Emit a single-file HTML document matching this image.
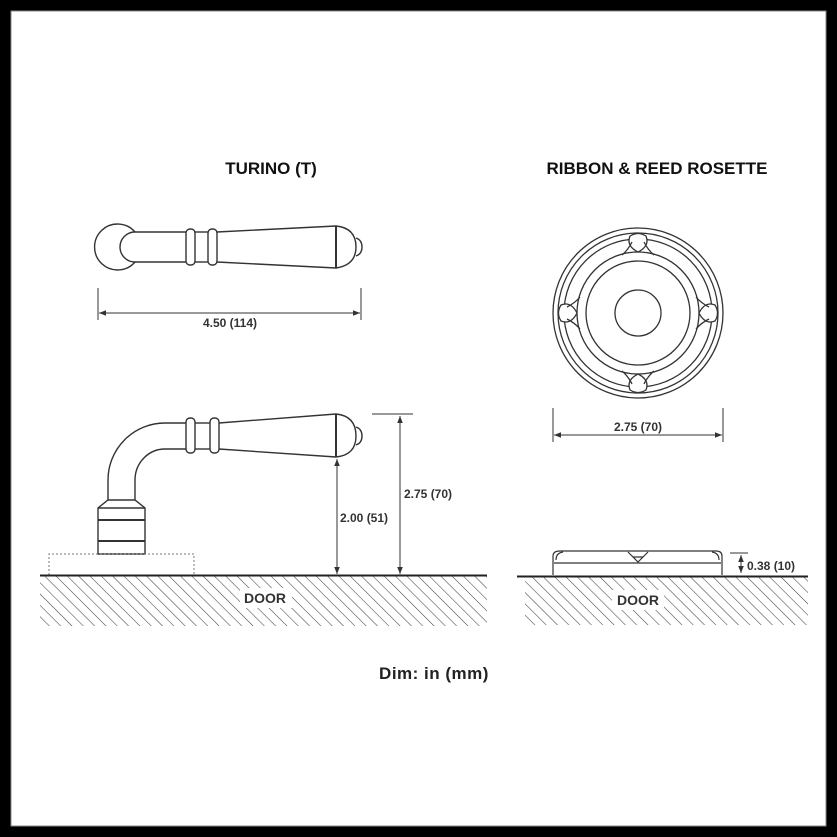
<!DOCTYPE html>
<html><head><meta charset="utf-8"><style>
html,body{margin:0;padding:0;background:#fff}
svg{display:block}
text{font-family:"Liberation Sans",Arial,sans-serif;fill:#333;font-weight:bold}
</style></head><body>
<svg width="837" height="837" viewBox="0 0 837 837" xmlns="http://www.w3.org/2000/svg">
<defs>
<pattern id="h" width="8" height="8" patternUnits="userSpaceOnUse" patternTransform="rotate(-45)">
<line x1="0" y1="0" x2="0" y2="8" stroke="#444" stroke-width="1.1"/>
</pattern>
<marker id="a" viewBox="0 0 10 10" refX="10" refY="5" markerWidth="7" markerHeight="7" orient="auto-start-reverse"><path d="M0,1 L10,5 L0,9 z" fill="#333"/></marker>
</defs>
<rect x="0" y="0" width="837" height="837" fill="#000"/>
<rect x="11" y="11" width="815" height="815" fill="#fff" stroke="#888" stroke-width="1"/>

<text x="271" y="174" font-size="17" text-anchor="middle" style="fill:#111">TURINO (T)</text>
<text x="657" y="174" font-size="17" text-anchor="middle" style="fill:#111">RIBBON &amp; REED ROSETTE</text>

<g fill="none" stroke="#333" stroke-width="1.4">
<path d="M135,232 A23,23 0 1 0 135,262"/>
<path d="M186,232 L135,232 A15,15 0 0 0 135,262 L186,262"/>
<rect x="186" y="229" width="9" height="36" rx="4"/>
<rect x="208" y="229" width="9" height="36" rx="4"/>
<line x1="195" y1="232" x2="208" y2="232"/><line x1="195" y1="262" x2="208" y2="262"/>
<path d="M217,232 L336,226 Q356,228 356,247 Q356,265 336,268 L217,262"/>
<line x1="336" y1="226" x2="336" y2="268" stroke-width="2"/>
<path d="M356,238 Q362,240 362,247 Q362,254 356,256"/>
<line x1="98" y1="288" x2="98" y2="320" stroke-width="1"/>
<line x1="361" y1="288" x2="361" y2="320" stroke-width="1"/>
<line x1="99" y1="313" x2="360" y2="313" stroke-width="1" marker-start="url(#a)" marker-end="url(#a)"/>

<path d="M108,500 L108,480 A57,57 0 0 1 165,423 L186,423"/>
<path d="M135,500 L135,480 A30,31 0 0 1 165,449 L186,449"/>
<rect x="186" y="418" width="9" height="35" rx="4"/>
<rect x="210" y="418" width="9" height="35" rx="4"/>
<line x1="195" y1="423" x2="210" y2="423"/><line x1="195" y1="449" x2="210" y2="449"/>
<path d="M219,423 L336,414 Q356,416 356,436 Q356,455 336,457 L219,449"/>
<line x1="336" y1="414" x2="336" y2="457" stroke-width="2"/>
<path d="M356,427 Q362,429 362,436 Q362,443 356,445"/>
<path d="M108,500 L135,500 L145,508 L145,554 L98,554 L98,508 Z"/>
<line x1="98" y1="508" x2="145" y2="508"/>
<line x1="98" y1="520" x2="145" y2="520" stroke-width="2"/>
<line x1="98" y1="541" x2="145" y2="541" stroke-width="2"/>
<path d="M49,575 L49,554 L194,554 L194,575" stroke-dasharray="2,2" stroke-width="1" stroke="#777"/>
<line x1="337" y1="459" x2="337" y2="574" stroke-width="1" marker-start="url(#a)" marker-end="url(#a)"/>
<line x1="372" y1="414" x2="413" y2="414" stroke-width="1"/>
<line x1="400" y1="416" x2="400" y2="574" stroke-width="1" marker-start="url(#a)" marker-end="url(#a)"/>
</g>
<rect x="40" y="576" width="447" height="50" fill="url(#h)"/>
<line x1="40" y1="575.5" x2="487" y2="575.5" stroke="#222" stroke-width="2"/>
<rect x="240" y="588" width="52" height="20" fill="#fff"/>
<text x="265" y="603" font-size="14" text-anchor="middle">DOOR</text>
<text x="230" y="327" font-size="12" text-anchor="middle">4.50 (114)</text>
<text x="340" y="522" font-size="12">2.00 (51)</text>
<text x="404" y="498" font-size="12">2.75 (70)</text>

<g fill="none" stroke="#333" stroke-width="1.3">
<circle cx="638" cy="313" r="85"/>
<circle cx="638" cy="313" r="80"/>
<circle cx="638" cy="313" r="74"/>
<circle cx="638" cy="313" r="61"/>
<circle cx="638" cy="313" r="52"/>
<circle cx="638" cy="313" r="23"/>
<g id="p">
<path d="M630,236 Q638,231 646,236 Q650,246 638,252 Q626,246 630,236 Z" fill="#fff"/>
<path d="M622,255 Q628,250 632,242 M654,255 Q648,250 644,242"/>
</g>
<use href="#p" transform="rotate(90 638 313)"/>
<use href="#p" transform="rotate(180 638 313)"/>
<use href="#p" transform="rotate(270 638 313)"/>
<line x1="553" y1="408" x2="553" y2="442" stroke-width="1"/>
<line x1="723" y1="408" x2="723" y2="442" stroke-width="1"/>
<line x1="554" y1="435" x2="722" y2="435" stroke-width="1" marker-start="url(#a)" marker-end="url(#a)"/>
</g>
<text x="638" y="431" font-size="12" text-anchor="middle">2.75 (70)</text>

<g fill="none" stroke="#333" stroke-width="1.2">
<path d="M553,575 L553,556 Q553,551 560,551 L716,551 Q722,551 722,556 L722,575"/>
<line x1="554" y1="563" x2="721" y2="563"/>
<path d="M556,560 Q556,553 563,552 M719,560 Q719,553 712,552"/>
<path d="M628,552 L638,562 L648,552 M633,557 L643,557"/>
<line x1="730" y1="553" x2="748" y2="553" stroke-width="1"/>
<line x1="741" y1="555" x2="741" y2="573" stroke-width="1" marker-start="url(#a)" marker-end="url(#a)"/>
</g>
<rect x="525" y="577" width="283" height="48" fill="url(#h)"/>
<line x1="517" y1="576.5" x2="808" y2="576.5" stroke="#222" stroke-width="2"/>
<rect x="612" y="590" width="52" height="20" fill="#fff"/>
<text x="638" y="605" font-size="14" text-anchor="middle">DOOR</text>
<text x="747" y="570" font-size="12">0.38 (10)</text>

<text x="434" y="679" font-size="17" text-anchor="middle" style="fill:#222;letter-spacing:0.5px">Dim: in (mm)</text>
</svg>
</body></html>
